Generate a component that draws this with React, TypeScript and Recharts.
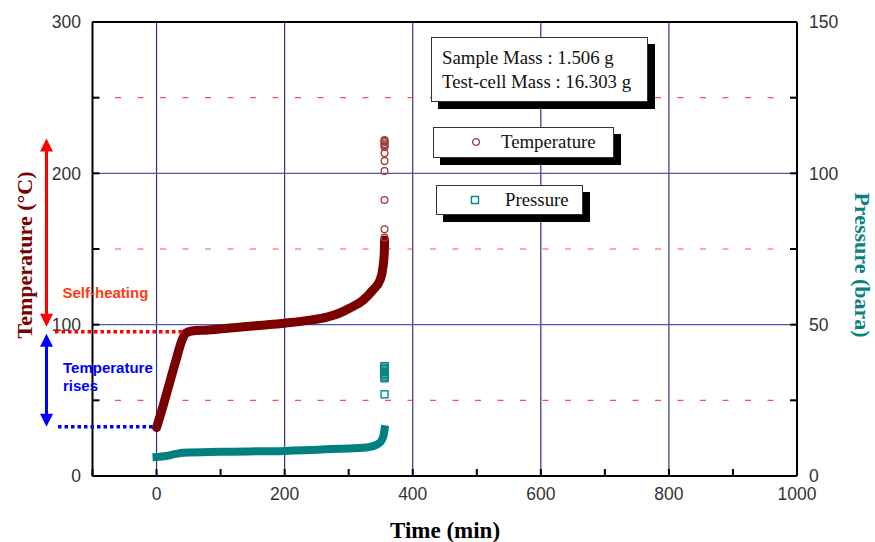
import React from "react";
import {
  ComposedChart,
  Line,
  Scatter,
  XAxis,
  YAxis,
  ReferenceLine,
} from "recharts";

// dense part of the runaway curve (time min, temperature degC)
const tempCurve = [
  { t: 0, v: 32 },
  { t: 10, v: 46 },
  { t: 20, v: 61 },
  { t: 30, v: 76 },
  { t: 40, v: 90 },
  { t: 46, v: 94.5 },
  { t: 55, v: 95.8 },
  { t: 80, v: 96.5 },
  { t: 120, v: 98 },
  { t: 160, v: 99.5 },
  { t: 200, v: 101 },
  { t: 240, v: 103 },
  { t: 266, v: 105 },
  { t: 286, v: 107.7 },
  { t: 302, v: 111 },
  { t: 322, v: 116 },
  { t: 338, v: 123 },
  { t: 349, v: 129.5 },
  { t: 353.5, v: 138 },
  { t: 355.5, v: 147 },
  { t: 356, v: 156 },
];

// isolated readings at the end of the test
const tempSpikes = [
  { t: 356, v: 157.6 },
  { t: 356, v: 163 },
  { t: 356, v: 182.4 },
  { t: 356, v: 201.5 },
  { t: 356, v: 208.1 },
  { t: 356, v: 213.2 },
  { t: 356, v: 217.4 },
  { t: 356, v: 218.5 },
  { t: 356, v: 219.4 },
  { t: 356, v: 220.7 },
  { t: 356, v: 221.3 },
  { t: 356, v: 222 },
];

const pressCurve = [
  { t: 0, v: 6.3 },
  { t: 15, v: 6.6 },
  { t: 30, v: 7.3 },
  { t: 42, v: 7.7 },
  { t: 100, v: 8.0 },
  { t: 200, v: 8.3 },
  { t: 286, v: 9.0 },
  { t: 328, v: 9.4 },
  { t: 345, v: 10.5 },
  { t: 352, v: 12 },
  { t: 355, v: 14 },
  { t: 356, v: 15.4 },
];

const pressSpikes = [
  { t: 356, v: 27.0 },
  { t: 356, v: 32.3 },
  { t: 356, v: 32.8 },
  { t: 356, v: 33.3 },
  { t: 356, v: 33.8 },
  { t: 356, v: 34.3 },
  { t: 356, v: 34.8 },
  { t: 356, v: 35.3 },
  { t: 356, v: 35.8 },
  { t: 356, v: 36.3 },
];

const timeTicks = [-100, 0, 100, 200, 300, 400, 500, 600, 700, 800, 900, 1000];
const tempTicks = [0, 50, 100, 150, 200, 250, 300];
const pressTicks = [0, 25, 50, 75, 100, 125, 150];
const gridTimes = [0, 200, 400, 600, 800];
const gridTemps = [100, 200];
const dashTemps = [50, 150, 250];

// annotation levels (degC)
const selfHeatTop = 223;
const onsetTemp = 95.4;
const startTemp = 32.6;

// plot geometry, used for the annotation overlay only
const PLOT = { left: 92.5, right: 797, top: 22, bottom: 476 };
const yT = (v: number) => PLOT.bottom - (v / 300) * (PLOT.bottom - PLOT.top);

const tickFont = { fill: "#333", fontSize: 17.5, fontFamily: "Liberation Sans, Arial" };
const serif = "Liberation Serif, Times New Roman, serif";

const circleShape = (p: any) => (
  <circle cx={p.cx} cy={p.cy} r={3.4} fill="none" stroke="#9a3c3c" strokeWidth={1.3} />
);
const squareShape = (p: any) => (
  <rect x={p.cx - 3.5} y={p.cy - 3.5} width={7} height={7} fill="none" stroke="#0a8585" strokeWidth={1.4} />
);

function Arrow({ x, y1, y2, color }: { x: number; y1: number; y2: number; color: string }) {
  const h = 13;
  const w = 6.5;
  return (
    <g>
      <line x1={x} y1={y1 + h - 1} x2={x} y2={y2 - h + 1} stroke={color} strokeWidth={3} />
      <polygon points={`${x},${y1} ${x - w},${y1 + h} ${x + w},${y1 + h}`} fill={color} />
      <polygon points={`${x},${y2} ${x - w},${y2 - h} ${x + w},${y2 - h}`} fill={color} />
    </g>
  );
}

export default function App() {
  return (
    <div
      style={{
        position: "absolute",
        left: 0,
        top: 0,
        width: 875,
        height: 542,
        background: "#fff",
      }}
    >
      <ComposedChart
        width={875}
        height={542}
        margin={{ top: 22, right: 18, bottom: 36, left: 32.5 }}
      >
        <XAxis
          dataKey="t"
          type="number"
          domain={[-100, 1000]}
          ticks={timeTicks}
          interval={0}
          height={30}
          tickSize={-7}
          tickMargin={19}
          tick={tickFont}
          tickFormatter={(v: number) => (v >= 0 && v % 200 === 0 ? String(v) : "")}
          axisLine={{ stroke: "#000", strokeWidth: 2 }}
          tickLine={{ stroke: "#000", strokeWidth: 2 }}
        />
        <YAxis
          yAxisId="T"
          type="number"
          domain={[0, 300]}
          ticks={tempTicks}
          interval={0}
          width={60}
          tickSize={-7}
          tickMargin={18.5}
          tick={tickFont}
          tickFormatter={(v: number) => (v % 100 === 0 ? String(v) : "")}
          axisLine={{ stroke: "#000", strokeWidth: 2 }}
          tickLine={{ stroke: "#000", strokeWidth: 2 }}
        />
        <YAxis
          yAxisId="P"
          orientation="right"
          type="number"
          domain={[0, 150]}
          ticks={pressTicks}
          interval={0}
          width={60}
          tickSize={-7}
          tickMargin={19}
          tick={{ ...tickFont, textAnchor: "start" }}
          tickFormatter={(v: number) => (v % 50 === 0 ? String(v) : "")}
          axisLine={{ stroke: "#000", strokeWidth: 2 }}
          tickLine={{ stroke: "#000", strokeWidth: 2 }}
        />

        {gridTimes.map((t) => (
          <ReferenceLine key={"gx" + t} x={t} yAxisId="T" stroke="#2f2f92" strokeWidth={1.2} />
        ))}
        {gridTemps.map((v) => (
          <ReferenceLine key={"gy" + v} y={v} yAxisId="T" stroke="#5656a6" strokeWidth={1.3} />
        ))}
        {dashTemps.map((v) => (
          <ReferenceLine
            key={"dy" + v}
            y={v}
            yAxisId="T"
            stroke="#ff5050"
            strokeWidth={1.2}
            strokeDasharray="6 16.5"
          />
        ))}
        <ReferenceLine y={300} yAxisId="T" stroke="#000" strokeWidth={2} />

        <Line
          data={pressCurve}
          dataKey="v"
          yAxisId="P"
          type="monotone"
          stroke="#008080"
          strokeWidth={8}
          strokeLinecap="square"
          strokeLinejoin="round"
          dot={false}
          activeDot={false}
          isAnimationActive={false}
        />
        <Scatter
          data={pressSpikes}
          dataKey="v"
          yAxisId="P"
          shape={squareShape}
          isAnimationActive={false}
        />
        <Line
          data={tempCurve}
          dataKey="v"
          yAxisId="T"
          type="monotone"
          stroke="#7b0000"
          strokeWidth={9}
          strokeLinecap="round"
          strokeLinejoin="round"
          dot={false}
          activeDot={false}
          isAnimationActive={false}
        />
        <Scatter
          data={tempSpikes}
          dataKey="v"
          yAxisId="T"
          shape={circleShape}
          isAnimationActive={false}
        />
      </ComposedChart>

      <svg
        width={875}
        height={542}
        style={{ position: "absolute", left: 0, top: 0, pointerEvents: "none" }}
      >
        <line x1={55} x2={183} y1={yT(onsetTemp)} y2={yT(onsetTemp)} stroke="#ff0000" strokeWidth={3.5} strokeDasharray="3.5 3" />
        <line x1={58} x2={156} y1={yT(startTemp)} y2={yT(startTemp)} stroke="#0000ff" strokeWidth={3.5} strokeDasharray="3.5 3" />
        <Arrow x={46.5} y1={yT(selfHeatTop)} y2={yT(onsetTemp) - 5} color="#ff0000" />
        <Arrow x={46.5} y1={yT(onsetTemp) + 2} y2={yT(startTemp)} color="#0000ff" />

        <text x={62.5} y={292.5} dominantBaseline="central" fontFamily="Liberation Sans, Arial" fontWeight="bold" fontSize={15} fill="#ff3a10">
          Self-heating
        </text>
        <text x={63} y={367.5} dominantBaseline="central" fontFamily="Liberation Sans, Arial" fontWeight="bold" fontSize={15} fill="#0000ff">
          Temperature
        </text>
        <text x={63} y={385} dominantBaseline="central" fontFamily="Liberation Sans, Arial" fontWeight="bold" fontSize={15} fill="#0000ff">
          rises
        </text>

        <text
          transform="translate(24,255) rotate(-90)"
          textAnchor="middle"
          dominantBaseline="central"
          fontFamily={serif}
          fontWeight="bold"
          fontSize={22}
          fill="#7a0000"
        >
          Temperature (°C)
        </text>
        <text
          transform="translate(862,265) rotate(90)"
          textAnchor="middle"
          dominantBaseline="central"
          fontFamily={serif}
          fontWeight="bold"
          fontSize={22}
          fill="#0a8282"
        >
          Pressure (bara)
        </text>
        <text x={445} y={538} textAnchor="middle" fontFamily={serif} fontWeight="bold" fontSize={23} fill="#000">
          Time (min)
        </text>
      </svg>

      <div
        style={{
          position: "absolute",
          left: 431,
          top: 37,
          width: 217,
          height: 65,
          boxSizing: "border-box",
          border: "1.5px solid #333",
          boxShadow: "7px 7px 0 #000",
          background: "#fff",
          padding: "8px 0 0 10px",
          fontFamily: serif,
          fontSize: 18.8,
          lineHeight: "24px",
          color: "#111",
          whiteSpace: "nowrap",
        }}
      >
        <div>Sample Mass : 1.506 g</div>
        <div>Test-cell Mass : 16.303 g</div>
      </div>

      <div
        style={{
          position: "absolute",
          left: 433,
          top: 127,
          width: 181,
          height: 31,
          boxSizing: "border-box",
          border: "1.5px solid #333",
          boxShadow: "7px 7px 0 #000",
          background: "#fff",
          fontFamily: serif,
          fontSize: 18.8,
          color: "#111",
        }}
      >
        <svg width={10} height={10} style={{ position: "absolute", left: 37, top: 9 }}>
          <circle cx={5} cy={5} r={3.4} fill="none" stroke="#9a3c3c" strokeWidth={1.3} />
        </svg>
        <span style={{ position: "absolute", left: 67, top: 2, lineHeight: "24px" }}>Temperature</span>
      </div>

      <div
        style={{
          position: "absolute",
          left: 436,
          top: 185,
          width: 147,
          height: 30,
          boxSizing: "border-box",
          border: "1.5px solid #333",
          boxShadow: "7px 7px 0 #000",
          background: "#fff",
          fontFamily: serif,
          fontSize: 18.8,
          color: "#111",
        }}
      >
        <svg width={10} height={10} style={{ position: "absolute", left: 33, top: 8.5 }}>
          <rect x={1.5} y={1.5} width={7} height={7} fill="#fff" stroke="#0a8585" strokeWidth={1.4} />
        </svg>
        <span style={{ position: "absolute", left: 68, top: 1.5, lineHeight: "24px" }}>Pressure</span>
      </div>
    </div>
  );
}
